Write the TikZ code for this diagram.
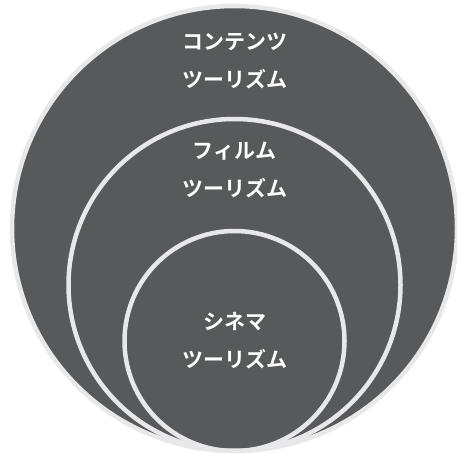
\documentclass[tikz,border=0pt]{standalone}
\usepackage{fontspec}
\newfontfamily\jpfont{Noto Sans CJK JP}[BoldFont={Noto Sans CJK JP Bold}]
\usetikzlibrary{calc, positioning}
\definecolor{ringfill}{HTML}{58595B}
\definecolor{ringline}{HTML}{E8E8EA}

\begin{document}
\begin{tikzpicture}[x=1pt,y=1pt,
  ring/.style={draw=ringline,line width=4.5pt},
  label/.style={text=white,align=center,
    font=\jpfont\bfseries\fontsize{21}{38}\selectfont}]
\useasboundingbox (0,0) rectangle (457,453);
\clip (0,0) rectangle (457,453);
\coordinate (O) at (234.5,2);

% Outer circle, filled; the two inner ones share its bottom point.
\draw[ring,fill=ringfill] ($(O)+(0,222.5)$) circle[radius=222.5];
\draw[ring] ($(O)+(0,166)$) circle[radius=166];
\draw[ring] ($(O)+(0,110)$) circle[radius=110];

% Labels.
\node[label] (content) at (234.5,392) {コンテンツ\\ツーリズム};
\node[label] (film) at (234.5,283) {フィルム\\ツーリズム};
\node[label] (cinema) at (234.5,112) {シネマ\\ツーリズム};
\end{tikzpicture}
\end{document}
